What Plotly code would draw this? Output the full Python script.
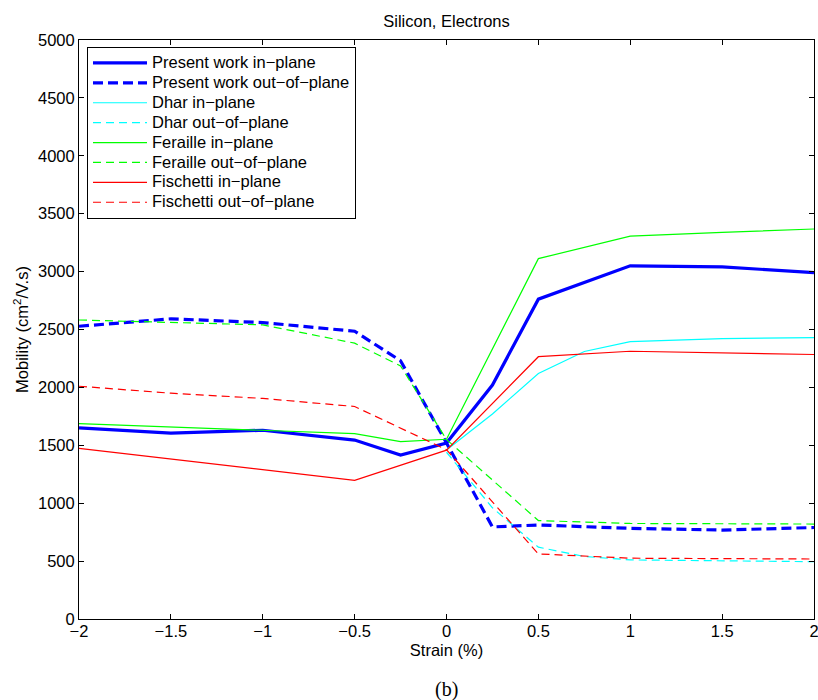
import plotly.graph_objects as go

# Strain (%) sample points
strain_main = [-2, -1.5, -1, -0.5, -0.25, 0, 0.25, 0.5, 1, 1.5, 2]
present_in = [1650, 1605, 1630, 1545, 1415, 1520, 2020, 2762, 3050, 3040, 2992]
present_out = [2528, 2592, 2560, 2485, 2230, 1520, 795, 812, 783, 768, 790]

strain_dhar = [0, 0.25, 0.5, 0.75, 1, 1.5, 2]
dhar_in = [1460, 1770, 2120, 2310, 2395, 2422, 2430]
dhar_out = [1440, 960, 620, 540, 510, 505, 495]

strain_fer = [-2, -1.5, -1, -0.5, -0.25, 0, 0.5, 1, 1.5, 2]
feraille_in = [1688, 1660, 1630, 1600, 1532, 1552, 3112, 3307, 3338, 3368]
feraille_out = [2582, 2562, 2540, 2382, 2185, 1550, 850, 825, 822, 820]

strain_fis = [-2, -1.5, -1, -0.5, 0, 0.5, 1, 1.5, 2]
fischetti_in = [1473, 1383, 1292, 1198, 1458, 2265, 2312, 2298, 2284]
fischetti_out = [2010, 1950, 1905, 1835, 1462, 562, 525, 522, 518]

x_ticks = [-2, -1.5, -1, -0.5, 0, 0.5, 1, 1.5, 2]
y_ticks = list(range(0, 5001, 500))

FONT = "Liberation Sans, Arial, Helvetica, sans-serif"
FS = 16.5

series = [
    ("Present work in\u2212plane", strain_main, present_in, "#0000ff", 3.2, "solid"),
    ("Present work out\u2212of\u2212plane", strain_main, present_out, "#0000ff", 3.2, "10px,5px"),
    ("Dhar in\u2212plane", strain_dhar, dhar_in, "#00ffff", 1.2, "solid"),
    ("Dhar out\u2212of\u2212plane", strain_dhar, dhar_out, "#00ffff", 1.2, "8px,5px"),
    ("Feraille in\u2212plane", strain_fer, feraille_in, "#00ff00", 1.2, "solid"),
    ("Feraille out\u2212of\u2212plane", strain_fer, feraille_out, "#00ff00", 1.2, "8px,5px"),
    ("Fischetti in\u2212plane", strain_fis, fischetti_in, "#ff0000", 1.2, "solid"),
    ("Fischetti out\u2212of\u2212plane", strain_fis, fischetti_out, "#ff0000", 1.2, "8px,5px"),
]

fig = go.Figure()
for name, xs, ys, color, w, dash in series:
    fig.add_trace(go.Scatter(
        x=xs, y=ys, mode="lines",
        name='<span style="font-size:%gpx">%s</span>' % (FS, name),
        line=dict(color=color, width=w, dash=dash),
    ))

fig.update_layout(
    width=818, height=700,
    margin=dict(l=79, r=4, t=40, b=81, autoexpand=False),
    paper_bgcolor="white", plot_bgcolor="white",
    font=dict(family=FONT, size=FS, color="black"),
    title=dict(text="Silicon, Electrons", x=0.5, xref="paper", y=1 - 21 / 700,
               yref="container", yanchor="middle", xanchor="center",
               font=dict(size=FS, family=FONT, color="black")),
    showlegend=True,
    legend=dict(
        x=8 / 735, y=1 - 7 / 579, xanchor="left", yanchor="top",
        bgcolor="white", bordercolor="black", borderwidth=1,
        font=dict(size=13, family=FONT, color="black"),
        itemwidth=54, tracegroupgap=0,
    ),
    annotations=[
        dict(text="(b)", x=0.5, y=-(689 - 619) / 579, xref="paper", yref="paper",
             showarrow=False, xanchor="center", yanchor="middle",
             font=dict(family="Liberation Serif, DejaVu Serif, serif", size=20, color="black")),
    ],
)

fig.update_xaxes(
    range=[-2, 2], tickvals=x_ticks, ticktext=[("\u2212" if v < 0 else "") + ("%g" % abs(v)) for v in x_ticks],
    ticks="inside", ticklen=5, tickcolor="black", tickwidth=1,
    showline=True, linecolor="black", linewidth=1, mirror="ticks",
    showgrid=False, zeroline=False, automargin=False,
    ticklabelstandoff=-3, ticklabeloverflow="allow",
    title=dict(text="Strain (%)", standoff=5, font=dict(size=FS, family=FONT)),
    tickfont=dict(size=FS, family=FONT, color="black"),
)
fig.update_yaxes(
    range=[0, 5000], tickvals=y_ticks, ticktext=[str(v) for v in y_ticks],
    ticks="inside", ticklen=5, tickcolor="black", tickwidth=1,
    showline=True, linecolor="black", linewidth=1, mirror="ticks",
    showgrid=False, zeroline=False, automargin=False,
    ticklabeloverflow="allow",
    title=dict(text="Mobility (cm<sup>2</sup>/V.s)", standoff=5, font=dict(size=FS, family=FONT)),
    tickfont=dict(size=FS, family=FONT, color="black"),
)

# Remove the default page margin so the 818x700 figure fills the window exactly.
fig.write_html(
    "out.html",
    config={"displayModeBar": False},
    post_script="document.documentElement.style.overflow='hidden';"
                "document.body.style.margin='0';document.body.style.overflow='hidden';",
)
